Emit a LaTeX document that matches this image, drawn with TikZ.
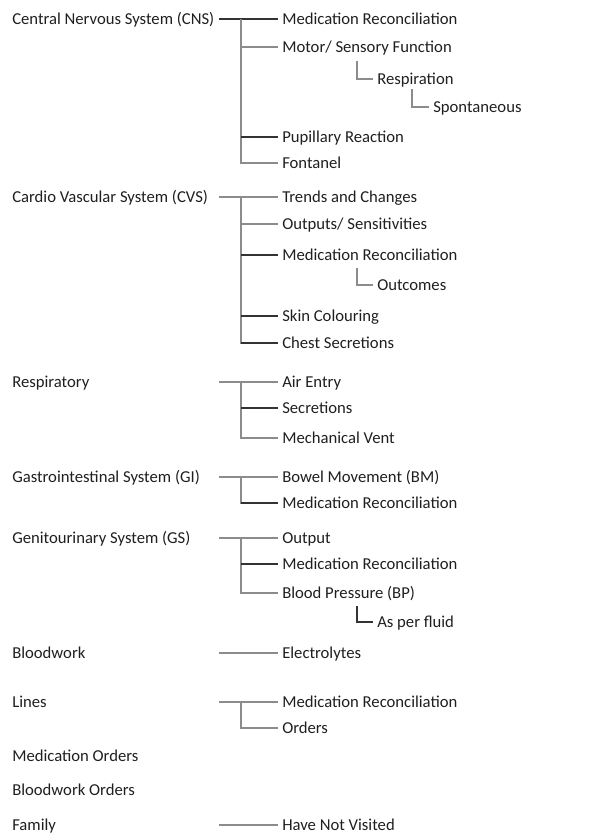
\documentclass[tikz,border=0pt]{standalone}
\usepackage{fontspec}
\setmainfont{Carlito}
\begin{document}
\begin{tikzpicture}[x=0.75pt,y=-0.75pt,
  lbl/.style={anchor=west,inner xsep=3pt,inner ysep=0pt,text height=7.9pt,text depth=0pt,font=\fontsize{12.5}{15}\selectfont,text=black!88},
  parent/.style={lbl,inner xsep=0pt},
  ln/.style={draw=black!45,line width=0.8pt},
  dk/.style={draw=black!80,line width=0.8pt}]
\useasboundingbox (0,0) rectangle (603,836);
% ---------- CNS
\node[parent] (cns) at (12,19) {Central Nervous System (CNS)};
\coordinate (cnsj) at (219,19);
\coordinate (cnsv) at (241,19);
\node[lbl] (cns1) at (278,19) {Medication Reconciliation};
\node[lbl] (cns2) at (278,47) {Motor/ Sensory Function};
\node[lbl] (cns2a) at (373,79) {Respiration};
\node[lbl] (cns2b) at (429,107) {Spontaneous};
\node[lbl] (cns3) at (278,137) {Pupillary Reaction};
\node[lbl] (cns4) at (278,163) {Fontanel};
\coordinate (cns2L) at (357,61);
\coordinate (cns2aL) at (412,89);
\draw[dk] (cnsj) -- (cns1.west);
\draw[ln] (cnsv) |- (cns4.west);
\draw[ln] (cnsv |- cns2.west) -- (cns2.west);
\draw[dk] (cnsv |- cns3.west) -- (cns3.west);
\draw[ln] (cns2L) |- (cns2a.west);
\draw[ln] (cns2aL) |- (cns2b.west);
% ---------- CVS
\node[parent] (cvs) at (12,197) {Cardio Vascular System (CVS)};
\coordinate (cvsj) at (219,197);
\coordinate (cvsv) at (241,197);
\node[lbl] (cvs1) at (278,197) {Trends and Changes};
\node[lbl] (cvs2) at (278,224) {Outputs/ Sensitivities};
\node[lbl] (cvs3) at (278,255) {Medication Reconciliation};
\node[lbl] (cvs3a) at (373,285) {Outcomes};
\node[lbl] (cvs4) at (278,316) {Skin Colouring};
\node[lbl] (cvs5) at (278,343) {Chest Secretions};
\coordinate (cvs3L) at (357,268);
\draw[ln] (cvsj) -- (cvs1.west);
\draw[ln] (cvsv) |- (cvs5.west);
\draw[ln] (cvsv |- cvs2.west) -- (cvs2.west);
\draw[dk] (cvsv |- cvs3.west) -- (cvs3.west);
\draw[dk] (cvsv |- cvs4.west) -- (cvs4.west);
\draw[dk] (cvsv |- cvs5.west) -- (cvs5.west);
\draw[ln] (cvs3L) |- (cvs3a.west);
% ---------- Respiratory
\node[parent] (res) at (12,382) {Respiratory};
\coordinate (resj) at (219,382);
\coordinate (resv) at (241,382);
\node[lbl] (res1) at (278,382) {Air Entry};
\node[lbl] (res2) at (278,408) {Secretions};
\node[lbl] (res3) at (278,438) {Mechanical Vent};
\draw[ln] (resj) -- (res1.west);
\draw[ln] (resv) |- (res3.west);
\draw[dk] (resv |- res2.west) -- (res2.west);
% ---------- GI
\node[parent] (gi) at (12,477) {Gastrointestinal System (GI)};
\coordinate (gij) at (219,477);
\coordinate (giv) at (241,477);
\node[lbl] (gi1) at (278,477) {Bowel Movement (BM)};
\node[lbl] (gi2) at (278,503) {Medication Reconciliation};
\draw[ln] (gij) -- (gi1.west);
\draw[ln] (giv) |- (gi2.west);
\draw[dk] (giv |- gi2.west) -- (gi2.west);
% ---------- GS
\node[parent] (gs) at (12,538) {Genitourinary System (GS)};
\coordinate (gsj) at (219,538);
\coordinate (gsv) at (241,538);
\node[lbl] (gs1) at (278,538) {Output};
\node[lbl] (gs2) at (278,564) {Medication Reconciliation};
\node[lbl] (gs3) at (278,593) {Blood Pressure (BP)};
\node[lbl] (gs3a) at (373,622) {As per fluid};
\coordinate (gs3L) at (357,606);
\draw[ln] (gsj) -- (gs1.west);
\draw[ln] (gsv) |- (gs3.west);
\draw[dk] (gsv |- gs2.west) -- (gs2.west);
\draw[dk] (gs3L) |- (gs3a.west);
% ---------- Bloodwork
\node[parent] (bw) at (12,653) {Bloodwork};
\coordinate (bwj) at (219,653);
\node[lbl] (bw1) at (278,653) {Electrolytes};
\draw[ln] (bwj) -- (bw1.west);
% ---------- Lines
\node[parent] (li) at (12,702) {Lines};
\coordinate (lij) at (219,702);
\coordinate (liv) at (241,702);
\node[lbl] (li1) at (278,702) {Medication Reconciliation};
\node[lbl] (li2) at (278,728) {Orders};
\draw[ln] (lij) -- (li1.west);
\draw[ln] (liv) |- (li2.west);
% ---------- others
\node[parent] (mo) at (12,756) {Medication Orders};
\node[parent] (bo) at (12,790) {Bloodwork Orders};
\node[parent] (fa) at (12,825) {Family};
\coordinate (faj) at (219,825);
\node[lbl] (fa1) at (278,825) {Have Not Visited};
\draw[ln] (faj) -- (fa1.west);
\end{tikzpicture}
\end{document}
